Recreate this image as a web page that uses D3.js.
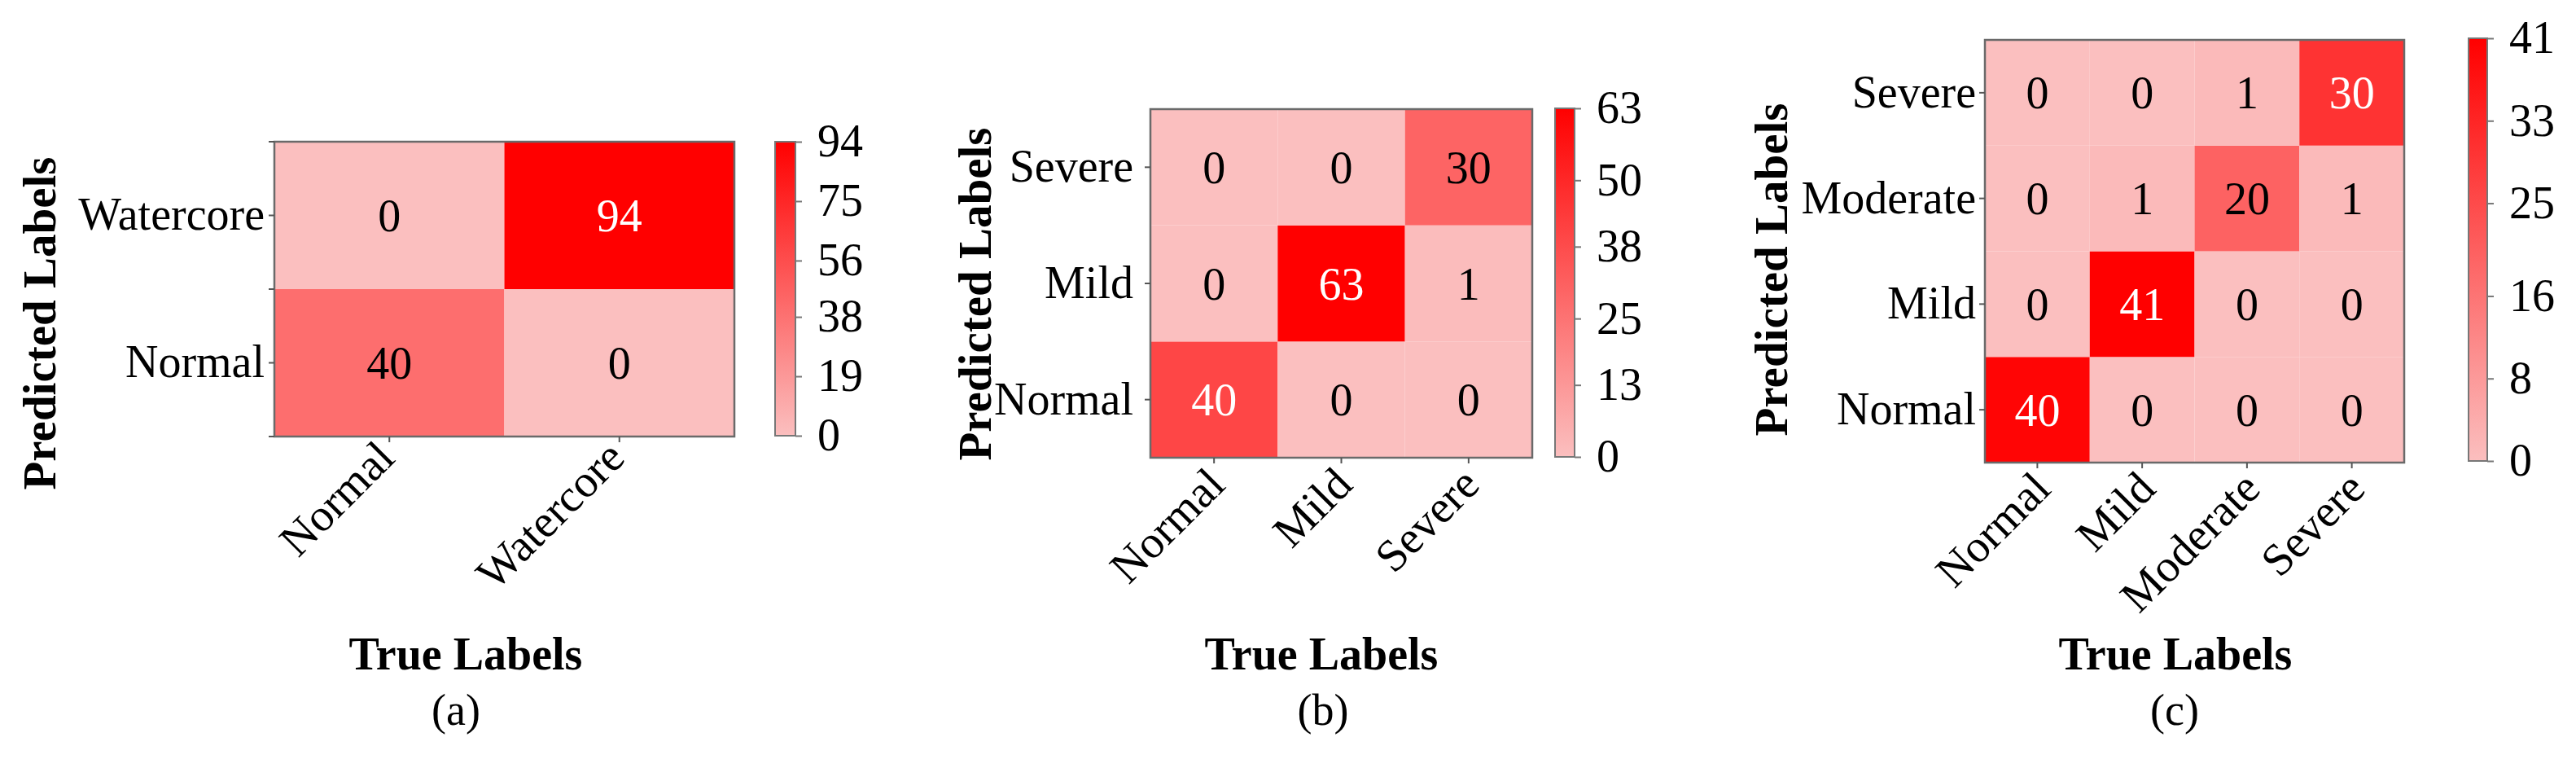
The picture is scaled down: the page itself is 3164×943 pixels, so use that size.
<!DOCTYPE html>
<html>
<head>
<meta charset="utf-8">
<script src="https://cdn.jsdelivr.net/npm/d3@7"></script>
<style>
  body { margin: 0; background: #fff; }
  svg { display: block; }
  text { font-family: "Times New Roman", "Liberation Serif", serif; }
</style>
</head>
<body>
<div id="container"></div>
<script>
/* CONSTANTS AND GLOBALS */
const width = 3164,
  height = 943

const lowColor = "#fbbfbf",
  highColor = "#ff0000"

/* DATA */
// rows = predicted label, cols = true label, both in category order
const catsA = ["Normal", "Watercore"]
const countsA = [
  [40, 0],
  [0, 94]
]
const cbTicksA = [0, 19, 38, 56, 75, 94]

const catsB = ["Normal", "Mild", "Severe"]
const countsB = [
  [40, 0, 0],
  [0, 63, 1],
  [0, 0, 30]
]
const cbTicksB = [0, 13, 25, 38, 50, 63]

const catsC = ["Normal", "Mild", "Moderate", "Severe"]
const countsC = [
  [40, 0, 0, 0],
  [0, 41, 0, 0],
  [0, 1, 20, 1],
  [0, 0, 1, 30]
]
const cbTicksC = [0, 8, 16, 25, 33, 41]

const captions = ["(a)", "(b)", "(c)"]

/* LAYOUT (pixel boxes for each panel) */
const layouts = [
  { x0: 337, x1: 902, y0: 174, y1: 536, cbX: 952, cbW: 25, cbY0: 174, cbY1: 535,
    yPad: 5, edgeTicks: true, xDx: 9, xDy: 29,
    ylabX: 68, ylabY: 397, xlabX: 572, capX: 560 },
  { x0: 1413, x1: 1882, y0: 134, y1: 562, cbX: 1910, cbW: 24, cbY0: 133, cbY1: 561,
    yPad: 14, edgeTicks: false, xDx: 16, xDy: 36,
    ylabX: 1217, ylabY: 361, xlabX: 1623, capX: 1625 },
  { x0: 2438, x1: 2953, y0: 49, y1: 568, cbX: 3032, cbW: 23, cbY0: 47, cbY1: 566,
    yPad: 4, edgeTicks: false, xDx: 19, xDy: 35,
    ylabX: 2195, ylabY: 331, xlabX: 2672, capX: 2671 }
]

const svg = d3.select("#container")
  .append("svg")
  .attr("width", width)
  .attr("height", height)

const defs = svg.append("defs")

const serif = "'Times New Roman', 'Liberation Serif', serif"

function drawPanel(cats, counts, cbTicks, caption, box, idx) {
  const g = svg.append("g")

  const xScale = d3.scaleBand()
    .domain(cats)
    .range([box.x0, box.x1])

  const yScale = d3.scaleBand()
    .domain(cats)
    .range([box.y1, box.y0])

  const vmax = d3.max(counts.flat())
  const color = d3.scaleLinear()
    .domain([0, vmax])
    .range([lowColor, highColor])

  const cells = counts.flatMap((row, i) =>
    row.map((v, j) => ({ pred: cats[i], truth: cats[j], v })))

  g.selectAll("rect.cell")
    .data(cells)
    .join("rect")
    .attr("class", "cell")
    .attr("x", d => xScale(d.truth))
    .attr("y", d => yScale(d.pred))
    .attr("width", xScale.bandwidth())
    .attr("height", yScale.bandwidth())
    .attr("fill", d => color(d.v))

  g.selectAll("text.val")
    .data(cells)
    .join("text")
    .attr("class", "val")
    .attr("x", d => xScale(d.truth) + xScale.bandwidth() / 2)
    .attr("y", d => yScale(d.pred) + yScale.bandwidth() / 2)
    .attr("dy", "0.35em")
    .attr("text-anchor", "middle")
    .attr("font-size", 56)
    .attr("fill", d => d.v > vmax / 2 ? "#fff" : "#000")
    .text(d => d.v)

  // frame
  g.append("rect")
    .attr("x", box.x0)
    .attr("y", box.y0)
    .attr("width", box.x1 - box.x0)
    .attr("height", box.y1 - box.y0)
    .attr("fill", "none")
    .attr("stroke", "#6a6a6a")
    .attr("stroke-width", 2.5)

  // ticks on the cell edges (only the first panel has them)
  if (box.edgeTicks) {
    const edges = cats.map(c => yScale(c)).concat([box.y1])
    g.selectAll("line.edge")
      .data(edges)
      .join("line")
      .attr("class", "edge")
      .attr("x1", box.x0 - 7)
      .attr("x2", box.x0)
      .attr("y1", d => d)
      .attr("y2", d => d)
      .attr("stroke", "#555")
      .attr("stroke-width", 2)
  }

  // y axis
  const gy = g.append("g")
    .attr("transform", `translate(${box.x0},0)`)
    .call(d3.axisLeft(yScale).tickSize(7).tickPadding(box.yPad))
  gy.select(".domain").remove()
  gy.selectAll(".tick line").attr("stroke", "#555").attr("stroke-width", 2)
  gy.selectAll(".tick text")
    .attr("font-size", 56)
    .attr("fill", "#000")
    .attr("font-family", serif)

  // x axis
  const gx = g.append("g")
    .attr("transform", `translate(0,${box.y1})`)
    .call(d3.axisBottom(xScale).tickSize(7))
  gx.select(".domain").remove()
  gx.selectAll(".tick line").attr("stroke", "#555").attr("stroke-width", 2)
  gx.selectAll(".tick text")
    .attr("x", 0)
    .attr("y", 0)
    .attr("dy", 0)
    .attr("text-anchor", "end")
    .attr("transform", `translate(${box.xDx},${box.xDy}) rotate(-45)`)
    .attr("font-size", 56)
    .attr("fill", "#000")
    .attr("font-family", serif)

  // colorbar
  const gradId = "grad" + idx
  const grad = defs.append("linearGradient")
    .attr("id", gradId)
    .attr("x1", 0).attr("y1", 1)
    .attr("x2", 0).attr("y2", 0)
  grad.selectAll("stop")
    .data([0, vmax])
    .join("stop")
    .attr("offset", d => d / vmax)
    .attr("stop-color", d => color(d))

  g.append("rect")
    .attr("x", box.cbX)
    .attr("y", box.cbY0)
    .attr("width", box.cbW)
    .attr("height", box.cbY1 - box.cbY0)
    .attr("fill", `url(#${gradId})`)
    .attr("stroke", "#777")
    .attr("stroke-width", 2)

  const cbScale = d3.scaleLinear()
    .domain([0, vmax])
    .range([box.cbY1, box.cbY0])

  const gc = g.append("g")
    .attr("transform", `translate(${box.cbX + box.cbW},0)`)
    .call(d3.axisRight(cbScale).tickValues(cbTicks).tickFormat(d3.format("d")).tickSize(8).tickPadding(19))
  gc.select(".domain").remove()
  gc.selectAll(".tick line").attr("stroke", "#777").attr("stroke-width", 2)
  gc.selectAll(".tick text")
    .attr("font-size", 56)
    .attr("fill", "#000")
    .attr("font-family", serif)

  // axis titles
  g.append("text")
    .attr("transform", `translate(${box.ylabX},${box.ylabY}) rotate(-90)`)
    .attr("text-anchor", "middle")
    .attr("font-size", 57)
    .attr("font-weight", "bold")
    .text("Predicted Labels")

  g.append("text")
    .attr("x", box.xlabX)
    .attr("y", 822)
    .attr("text-anchor", "middle")
    .attr("font-size", 56)
    .attr("font-weight", "bold")
    .text("True Labels")

  g.append("text")
    .attr("x", box.capX)
    .attr("y", 890)
    .attr("text-anchor", "middle")
    .attr("font-size", 54)
    .text(caption)
}

drawPanel(catsA, countsA, cbTicksA, captions[0], layouts[0], 0)
drawPanel(catsB, countsB, cbTicksB, captions[1], layouts[1], 1)
drawPanel(catsC, countsC, cbTicksC, captions[2], layouts[2], 2)
</script>
</body>
</html>
